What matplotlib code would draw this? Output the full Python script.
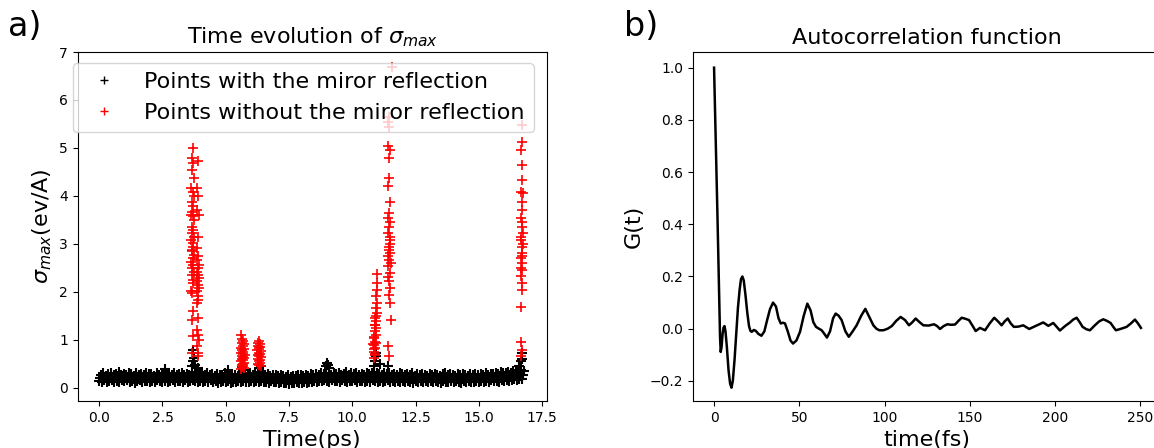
import numpy as np
import matplotlib
matplotlib.use("Agg")
import matplotlib.pyplot as plt

# ---- panel a) : sigma_max vs time (ps) ----
# black band, read as lower / middle / upper edge every 0.1 ps
black_low = [
    0.14, 0.12, 0.15, 0.11, 0.13, 0.16, 0.12, 0.14, 0.11, 0.15,
    0.13, 0.15, 0.12, 0.14, 0.10, 0.13, 0.16, 0.12, 0.14, 0.13,
    0.12, 0.14, 0.11, 0.15, 0.13, 0.12, 0.14, 0.11, 0.13, 0.15,
    0.12, 0.14, 0.13, 0.11, 0.15, 0.12, 0.14, 0.16, 0.13, 0.12,
    0.14, 0.11, 0.13, 0.12, 0.15, 0.11, 0.13, 0.10, 0.12, 0.14,
    0.11, 0.13, 0.10, 0.12, 0.11, 0.13, 0.12, 0.14, 0.11, 0.12,
    0.13, 0.11, 0.14, 0.12, 0.13, 0.11, 0.12, 0.10, 0.13, 0.11,
    0.12, 0.10, 0.11, 0.09, 0.10, 0.08, 0.10, 0.09, 0.11, 0.10,
    0.09, 0.11, 0.10, 0.12, 0.11, 0.13, 0.12, 0.14, 0.13, 0.15,
    0.14, 0.12, 0.15, 0.13, 0.14, 0.12, 0.15, 0.13, 0.11, 0.14,
    0.13, 0.15, 0.12, 0.14, 0.13, 0.11, 0.14, 0.12, 0.15, 0.13,
    0.12, 0.14, 0.11, 0.13, 0.15, 0.12, 0.13, 0.11, 0.14, 0.12,
    0.13, 0.11, 0.14, 0.12, 0.10, 0.13, 0.12, 0.14, 0.11, 0.13,
    0.12, 0.14, 0.11, 0.13, 0.12, 0.10, 0.13, 0.11, 0.12, 0.14,
    0.11, 0.13, 0.12, 0.10, 0.13, 0.11, 0.14, 0.12, 0.11, 0.13,
    0.12, 0.14, 0.11, 0.13, 0.12, 0.15, 0.13, 0.14, 0.12, 0.15,
    0.14, 0.16, 0.13, 0.15, 0.17, 0.16, 0.18, 0.17,
]
black_mid = [
    0.20, 0.22, 0.19, 0.21, 0.23, 0.20, 0.22, 0.19, 0.21, 0.22,
    0.20, 0.21, 0.23, 0.19, 0.22, 0.20, 0.21, 0.22, 0.19, 0.21,
    0.22, 0.20, 0.21, 0.19, 0.22, 0.21, 0.20, 0.23, 0.21, 0.20,
    0.21, 0.19, 0.22, 0.20, 0.21, 0.23, 0.20, 0.22, 0.21, 0.24,
    0.21, 0.20, 0.22, 0.19, 0.21, 0.20, 0.19, 0.21, 0.20, 0.22,
    0.19, 0.20, 0.18, 0.20, 0.19, 0.21, 0.20, 0.22, 0.21, 0.20,
    0.21, 0.20, 0.22, 0.21, 0.20, 0.19, 0.20, 0.18, 0.20, 0.19,
    0.18, 0.19, 0.17, 0.16, 0.18, 0.16, 0.17, 0.18, 0.19, 0.18,
    0.17, 0.19, 0.18, 0.20, 0.19, 0.21, 0.20, 0.22, 0.21, 0.23,
    0.22, 0.20, 0.22, 0.21, 0.23, 0.20, 0.22, 0.21, 0.19, 0.22,
    0.21, 0.23, 0.20, 0.22, 0.21, 0.20, 0.22, 0.21, 0.23, 0.22,
    0.21, 0.20, 0.22, 0.21, 0.23, 0.20, 0.21, 0.20, 0.22, 0.21,
    0.20, 0.21, 0.22, 0.20, 0.19, 0.21, 0.20, 0.22, 0.20, 0.19,
    0.21, 0.20, 0.22, 0.20, 0.19, 0.21, 0.22, 0.20, 0.21, 0.20,
    0.19, 0.21, 0.20, 0.19, 0.21, 0.20, 0.22, 0.20, 0.21, 0.20,
    0.21, 0.20, 0.22, 0.21, 0.20, 0.22, 0.23, 0.21, 0.22, 0.23,
    0.23, 0.24, 0.22, 0.25, 0.26, 0.25, 0.27, 0.26,
]
black_high = [
    0.27, 0.30, 0.25, 0.29, 0.31, 0.26, 0.28, 0.32, 0.27, 0.29,
    0.26, 0.30, 0.28, 0.25, 0.31, 0.27, 0.29, 0.26, 0.30, 0.28,
    0.29, 0.25, 0.30, 0.27, 0.28, 0.31, 0.26, 0.29, 0.27, 0.30,
    0.26, 0.28, 0.31, 0.27, 0.29, 0.26, 0.32, 0.30, 0.28, 0.33,
    0.29, 0.27, 0.30, 0.26, 0.28, 0.25, 0.29, 0.27, 0.26, 0.30,
    0.27, 0.25, 0.28, 0.26, 0.24, 0.27, 0.29, 0.31, 0.28, 0.30,
    0.27, 0.29, 0.32, 0.28, 0.30, 0.26, 0.28, 0.25, 0.27, 0.26,
    0.25, 0.27, 0.24, 0.23, 0.26, 0.22, 0.24, 0.25, 0.27, 0.26,
    0.24, 0.27, 0.25, 0.28, 0.26, 0.29, 0.27, 0.30, 0.28, 0.31,
    0.29, 0.27, 0.30, 0.28, 0.31, 0.26, 0.29, 0.32, 0.27, 0.30,
    0.28, 0.31, 0.27, 0.29, 0.26, 0.30, 0.28, 0.31, 0.33, 0.30,
    0.29, 0.27, 0.31, 0.28, 0.30, 0.26, 0.29, 0.27, 0.30, 0.28,
    0.26, 0.29, 0.27, 0.30, 0.25, 0.28, 0.26, 0.29, 0.27, 0.25,
    0.28, 0.26, 0.29, 0.27, 0.25, 0.28, 0.30, 0.26, 0.28, 0.27,
    0.25, 0.28, 0.26, 0.29, 0.27, 0.25, 0.28, 0.26, 0.29, 0.27,
    0.28, 0.26, 0.30, 0.27, 0.29, 0.28, 0.31, 0.29, 0.32, 0.30,
    0.31, 0.33, 0.30, 0.34, 0.36, 0.33, 0.37, 0.35,
]
# frame times of the three edges (0.1 ps sampling, staggered)
t_low = np.arange(len(black_low)) * 0.1
t_mid = t_low + 0.033
t_high = t_low + 0.067

# black points sticking out of the band
spike_t = [2.6, 3.65, 3.70, 3.75, 3.80, 3.90, 3.72, 5.10, 5.65, 5.70, 6.30, 6.40, 8.95, 9.00,
           9.05, 9.10, 10.85, 10.90, 10.92, 10.95, 11.10, 11.40, 16.60, 16.65, 16.70, 16.72]
spike_s = [0.38, 0.45, 0.55, 0.62, 0.48, 0.40, 0.78, 0.36, 0.42, 0.36, 0.40, 0.45, 0.45, 0.52,
           0.48, 0.40, 0.45, 0.55, 0.65, 0.72, 0.50, 0.45, 0.45, 0.55, 0.72, 0.60]

# red points (without the mirror reflection), one list per burst
c1_t = [3.70, 3.66, 3.72, 3.68, 3.74, 3.64, 3.70, 3.76, 3.66, 3.72,
        3.68, 3.62, 3.70, 3.74, 3.66, 3.72, 3.68, 3.76, 3.64, 3.70,
        3.72, 3.66, 3.68, 3.74, 3.70, 3.64, 3.72, 3.68, 3.76, 3.66,
        3.70, 3.72, 3.64, 3.68, 3.70, 3.66, 3.72, 3.68,
        3.90, 3.88, 3.92, 3.86, 3.94, 3.90, 3.88, 3.92, 3.86, 3.94,
        3.90, 3.88, 3.92, 3.96, 3.86, 3.90, 3.94, 3.88, 3.92, 3.90,
        3.86, 3.92, 3.88, 3.90, 3.94, 3.88, 3.92, 3.90]
c1_s = [4.99, 4.79, 4.68, 4.54, 4.37, 4.16, 4.09, 4.00, 3.88, 3.78,
        3.67, 3.60, 3.57, 3.50, 3.36, 3.29, 3.22, 3.15, 3.08, 3.01,
        2.94, 2.88, 2.84, 2.77, 2.70, 2.63, 2.56, 2.49, 2.42, 2.35,
        2.25, 2.18, 2.01, 1.97, 1.59, 1.42, 1.07, 0.72,
        4.72, 4.16, 3.99, 3.71, 3.60, 3.15, 2.91, 2.74, 2.67, 2.56,
        2.49, 2.42, 2.35, 2.28, 2.22, 2.15, 2.08, 2.01, 1.90, 1.83,
        1.76, 1.45, 1.21, 1.10, 1.00, 0.86, 0.72, 0.65]

c2_t = [5.62, 5.66, 5.70, 5.64, 5.72, 5.68, 5.60, 5.74, 5.66, 5.70, 5.62, 5.68, 5.76,
        5.64, 5.72, 5.66, 5.70, 5.60, 5.74, 5.68, 5.64, 5.70, 5.66, 5.72, 5.62, 5.68]
c2_s = [1.10, 1.02, 0.98, 0.93, 0.90, 0.86, 0.83, 0.80, 0.78, 0.75, 0.72, 0.70, 0.67,
        0.65, 0.62, 0.60, 0.57, 0.55, 0.52, 0.50, 0.48, 0.45, 0.42, 0.40, 0.38, 0.63]

c3_t = [6.30, 6.26, 6.34, 6.28, 6.36, 6.32, 6.24, 6.38, 6.30, 6.34, 6.26,
        6.32, 6.40, 6.28, 6.36, 6.30, 6.34, 6.26, 6.32, 6.38, 6.30]
c3_s = [0.98, 0.94, 0.90, 0.87, 0.84, 0.81, 0.78, 0.76, 0.73, 0.70, 0.68,
        0.65, 0.63, 0.60, 0.58, 0.55, 0.52, 0.50, 0.47, 0.45, 0.85]

c4_t = [10.98, 10.96, 10.99, 10.95, 10.97, 10.93, 10.96, 10.91, 10.94, 10.90,
        10.93, 10.88, 10.92, 10.87, 10.90, 10.86, 10.89, 10.85, 10.88, 10.84,
        10.91, 10.87, 10.93, 10.86, 10.90, 10.95, 10.83]
c4_s = [2.36, 2.18, 2.04, 1.90, 1.76, 1.66, 1.56, 1.45, 1.38, 1.31,
        1.24, 1.17, 1.10, 1.03, 0.96, 0.89, 0.82, 0.75, 0.68, 0.62,
        1.30, 1.05, 0.92, 0.80, 0.70, 1.50, 0.90]

c5_t = [11.55, 11.44, 11.41, 11.47, 11.43, 11.49, 11.45, 11.47, 11.43, 11.49,
        11.45, 11.41, 11.47, 11.43, 11.49, 11.45, 11.51, 11.47, 11.43, 11.49,
        11.45, 11.51, 11.47, 11.49, 11.53, 11.41, 11.45,
        11.51, 11.41, 11.53, 11.49, 11.43, 11.51, 11.45]
c5_s = [6.69, 5.65, 5.55, 5.44, 5.03, 4.96, 4.79, 4.37, 4.20, 3.88,
        3.64, 3.53, 3.36, 3.22, 3.08, 2.94, 2.81, 2.67, 2.53, 2.39,
        2.22, 2.08, 1.94, 1.76, 1.42, 0.86, 0.65,
        3.00, 2.75, 2.60, 3.45, 2.30, 3.15, 2.88]

c6_t = [16.70, 16.72, 16.68, 16.72, 16.70, 16.68, 16.74, 16.70, 16.72, 16.68,
        16.70, 16.74, 16.68, 16.72, 16.70, 16.66, 16.72, 16.70, 16.68, 16.72,
        16.70, 16.68, 16.66, 16.70, 16.74, 16.68, 16.72, 16.70, 16.66, 16.68]
c6_s = [5.48, 5.13, 4.96, 4.65, 4.33, 4.09, 4.05, 3.88, 3.71, 3.53,
        3.36, 3.22, 3.08, 2.94, 2.81, 2.70, 2.60, 2.46, 2.32, 2.18,
        2.04, 1.69, 0.96, 0.79, 3.00, 2.50, 3.45, 2.75, 3.15, 0.65]

# ---- panel b) : autocorrelation function G(t) ----
time_fs = [0.0, 1.0, 2.0, 3.0, 3.5, 3.9, 4.4, 5.0, 5.6, 6.1, 6.7, 7.5, 8.5, 9.4, 10.2,
           11.0, 12.0, 13.0, 14.0, 15.0, 15.8, 16.6, 17.4, 18.4, 19.5, 20.5, 21.3,
           22.1, 23.3, 24.4, 26.0, 27.8, 29.5, 31.0, 32.8, 34.6, 36.3, 37.8, 39.1,
           40.4, 41.6, 43.2, 44.8, 46.3, 48.3, 50.4, 52.6, 54.7, 56.6, 58.2, 59.8,
           61.5, 63.1, 64.7, 66.2, 68.0, 69.8, 71.3, 73.0, 74.8, 77.0, 79.0, 81.3,
           83.6, 86.3, 88.7, 91.0, 93.4, 95.2, 96.9, 99.3, 101.8, 104.2, 106.8,
           109.4, 112.0, 114.3, 116.3, 118.2, 120.5, 122.7, 125.8, 129.0, 130.8,
           132.5, 134.6, 136.8, 139.0, 141.3, 143.3, 145.2, 147.4, 149.5, 151.5,
           153.4, 155.9, 158.9, 161.6, 164.3, 166.5, 168.6, 170.4, 172.2, 174.0,
           175.8, 178.5, 181.3, 183.0, 184.8, 189.0, 193.0, 196.0, 198.9, 200.8,
           202.8, 205.8, 208.7, 210.6, 212.6, 214.4, 216.1, 218.3, 220.4, 223.3,
           225.8, 228.2, 230.4, 232.5, 234.0, 235.6, 238.8, 241.9, 244.4, 246.8,
           248.6, 250.3]
G = [1.0, 0.72, 0.43, 0.13, -0.03, -0.089, -0.07, -0.02, 0.005, 0.01, -0.01, -0.07,
     -0.16, -0.21, -0.226, -0.20, -0.12, -0.02, 0.08, 0.15, 0.19, 0.20, 0.185, 0.13,
     0.06, 0.01, -0.008, -0.012, -0.005, -0.008, -0.02, -0.027, -0.01, 0.03, 0.075,
     0.10, 0.085, 0.04, 0.02, 0.023, 0.02, -0.01, -0.045, -0.057, -0.045, -0.012,
     0.05, 0.096, 0.07, 0.025, 0.007, 0.0, -0.006, -0.02, -0.034, -0.01, 0.04, 0.058,
     0.05, 0.033, -0.01, -0.031, -0.01, 0.013, 0.05, 0.076, 0.045, 0.013, 0.0,
     -0.006, -0.006, 0.0, 0.010, 0.03, 0.045, 0.033, 0.013, 0.025, 0.039, 0.025,
     0.013, 0.012, 0.017, 0.01, -0.001, 0.01, 0.017, 0.015, 0.016, 0.03, 0.042,
     0.038, 0.033, 0.012, -0.009, 0.003, -0.006, 0.02, 0.042, 0.028, 0.013, 0.028,
     0.039, 0.02, 0.007, 0.008, 0.013, 0.006, -0.001, 0.012, 0.024, 0.011, 0.022,
     0.008, -0.007, 0.01, 0.024, 0.035, 0.042, 0.025, 0.007, -0.002, -0.006, 0.013,
     0.028, 0.036, 0.03, 0.022, 0.008, -0.006, 0.0, 0.007, 0.02, 0.035, 0.02, 0.003]

red_t = c1_t + c2_t + c3_t + c4_t + c5_t + c6_t
red_s = c1_s + c2_s + c3_s + c4_s + c5_s + c6_s
assert len(red_t) == len(red_s) and len(spike_t) == len(spike_s) and len(time_fs) == len(G)
assert len(black_low) == len(black_high) == len(black_mid)

black_t = np.concatenate([t_low, t_mid, t_high, spike_t])
black_s = np.concatenate([black_low, black_mid, black_high, spike_s])

fig = plt.figure(figsize=(11.54, 4.48), dpi=100)

ax1 = fig.add_axes([0.0673, 0.1049, 0.4064, 0.779])
ax1.plot(black_t, black_s, "+", color="black", ms=6.5, mew=1.5,
         label="Points with the miror reflection")
ax1.plot(red_t, red_s, "+", color="red", ms=6.5, mew=1.2,
         label="Points without the miror reflection")
ax1.set_xlim(-0.85, 17.68)
ax1.set_ylim(-0.28, 7.0)
ax1.set_title(r"Time evolution of $\sigma_{max}$", fontsize=16)
ax1.set_xlabel("Time(ps)", fontsize=16)
ax1.set_ylabel(r"$\sigma_{max}$(ev/A)", fontsize=16)
leg = ax1.legend(loc="upper left", bbox_to_anchor=(0.0633, 0.859),
                 bbox_transform=fig.transFigure, borderaxespad=0, fontsize=16)
for h in leg.legend_handles:
    h.set_markersize(6)
    h.set_markeredgewidth(1.0)

ax2 = fig.add_axes([0.6003, 0.1049, 0.4064, 0.779])
ax2.plot(time_fs, G, color="black", lw=1.8)
ax2.set_xlim(-12.5, 262.5)
ax2.set_ylim(-0.277, 1.06)
ax2.set_title("Autocorrelation function", fontsize=16)
ax2.set_xlabel("time(fs)", fontsize=16)
ax2.set_ylabel("G(t)", fontsize=16)

fig.text(0.007, 0.94, "a)", fontsize=24, va="center")
fig.text(0.541, 0.94, "b)", fontsize=24, va="center")

fig.savefig("out.png", dpi=100)
